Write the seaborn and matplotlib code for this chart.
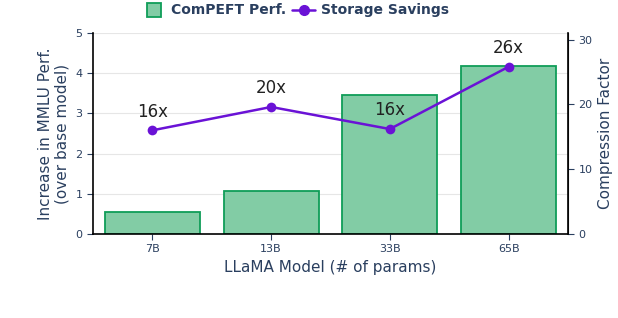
import matplotlib
matplotlib.use("Agg")
import matplotlib.pyplot as plt
import seaborn as sns
import pandas as pd
from matplotlib.lines import Line2D

sns.set_style("white")
plt.rcParams['font.family'] = ['DejaVu Sans']

# data
models = ["7B", "13B", "33B", "65B"]
perf_gain = [0.54, 1.06, 3.47, 4.19]
compression = [16.0, 19.6, 16.2, 25.8]
comp_labels = ["16x", "20x", "16x", "26x"]

txt_col = "#2a3f5f"
bar_fill = "#82cca5"
bar_edge = "#0f9d58"
line_col = "#6a12d6"

df = pd.DataFrame({"model": models, "perf": perf_gain, "comp": compression})

fig = plt.figure(figsize=(6.18, 3.18), dpi=100)
ax = fig.add_axes([0.1505, 0.264, 0.7685, 0.632])

sns.barplot(data=df, x="model", y="perf", ax=ax, color=bar_fill, edgecolor=bar_edge,
            linewidth=1.3, width=0.8, saturation=1, zorder=2)
ax.set_ylim(0, 5)
ax.set_xlim(-0.5, 3.5)
ax.set_yticks([0, 1, 2, 3, 4, 5])
ax.yaxis.grid(True, color="#e6e6e6", linewidth=0.8, zorder=0)
ax.set_axisbelow(True)
ax.set_xlabel("LLaMA Model (# of params)", fontsize=11, color=txt_col)
ax.set_ylabel("Increase in MMLU Perf.\n(over base model)", fontsize=11, color=txt_col)
ax.tick_params(axis="both", labelsize=8, colors=txt_col, length=4, direction="out",
               left=True, bottom=True)
for s in ["left", "bottom"]:
    ax.spines[s].set_color("black")
    ax.spines[s].set_linewidth(1.2)
ax.spines["top"].set_visible(False)

ax2 = ax.twinx()
sns.lineplot(data=df, x="model", y="comp", ax=ax2, color=line_col, linewidth=1.8,
             marker="o", markersize=7, markeredgewidth=0, sort=False)
ax2.set_ylim(0, 31)
ax2.set_yticks([0, 10, 20, 30])
ax2.set_ylabel("Compression Factor", fontsize=11, color=txt_col)
ax2.tick_params(axis="y", labelsize=8, colors=txt_col, length=4, direction="out", right=True)
ax2.spines["right"].set_color("black")
ax2.spines["right"].set_linewidth(1.2)
for s in ["left", "bottom", "top"]:
    ax2.spines[s].set_visible(False)

for i, (v, lab) in enumerate(zip(compression, comp_labels)):
    ax2.annotate(lab, (i, v), xytext=(0, 7), textcoords="offset points",
                 ha="center", va="bottom", fontsize=12, color="#222222")

handles = [Line2D([0], [0], linestyle="none", marker="s", markersize=10,
                  markerfacecolor=bar_fill, markeredgecolor=bar_edge, markeredgewidth=1.3),
           Line2D([0], [0], color=line_col, linewidth=1.8, marker="o", markersize=7)]
leg = fig.legend(handles, ["ComPEFT Perf.", "Storage Savings"], loc="center",
                 bbox_to_anchor=(0.478, 0.967), ncol=2, frameon=False,
                 prop={"weight": "bold", "size": 10}, handlelength=1.7,
                 columnspacing=0.4, handletextpad=0.4)
for t in leg.get_texts():
    t.set_color(txt_col)

fig.savefig("out.png", dpi=100)
